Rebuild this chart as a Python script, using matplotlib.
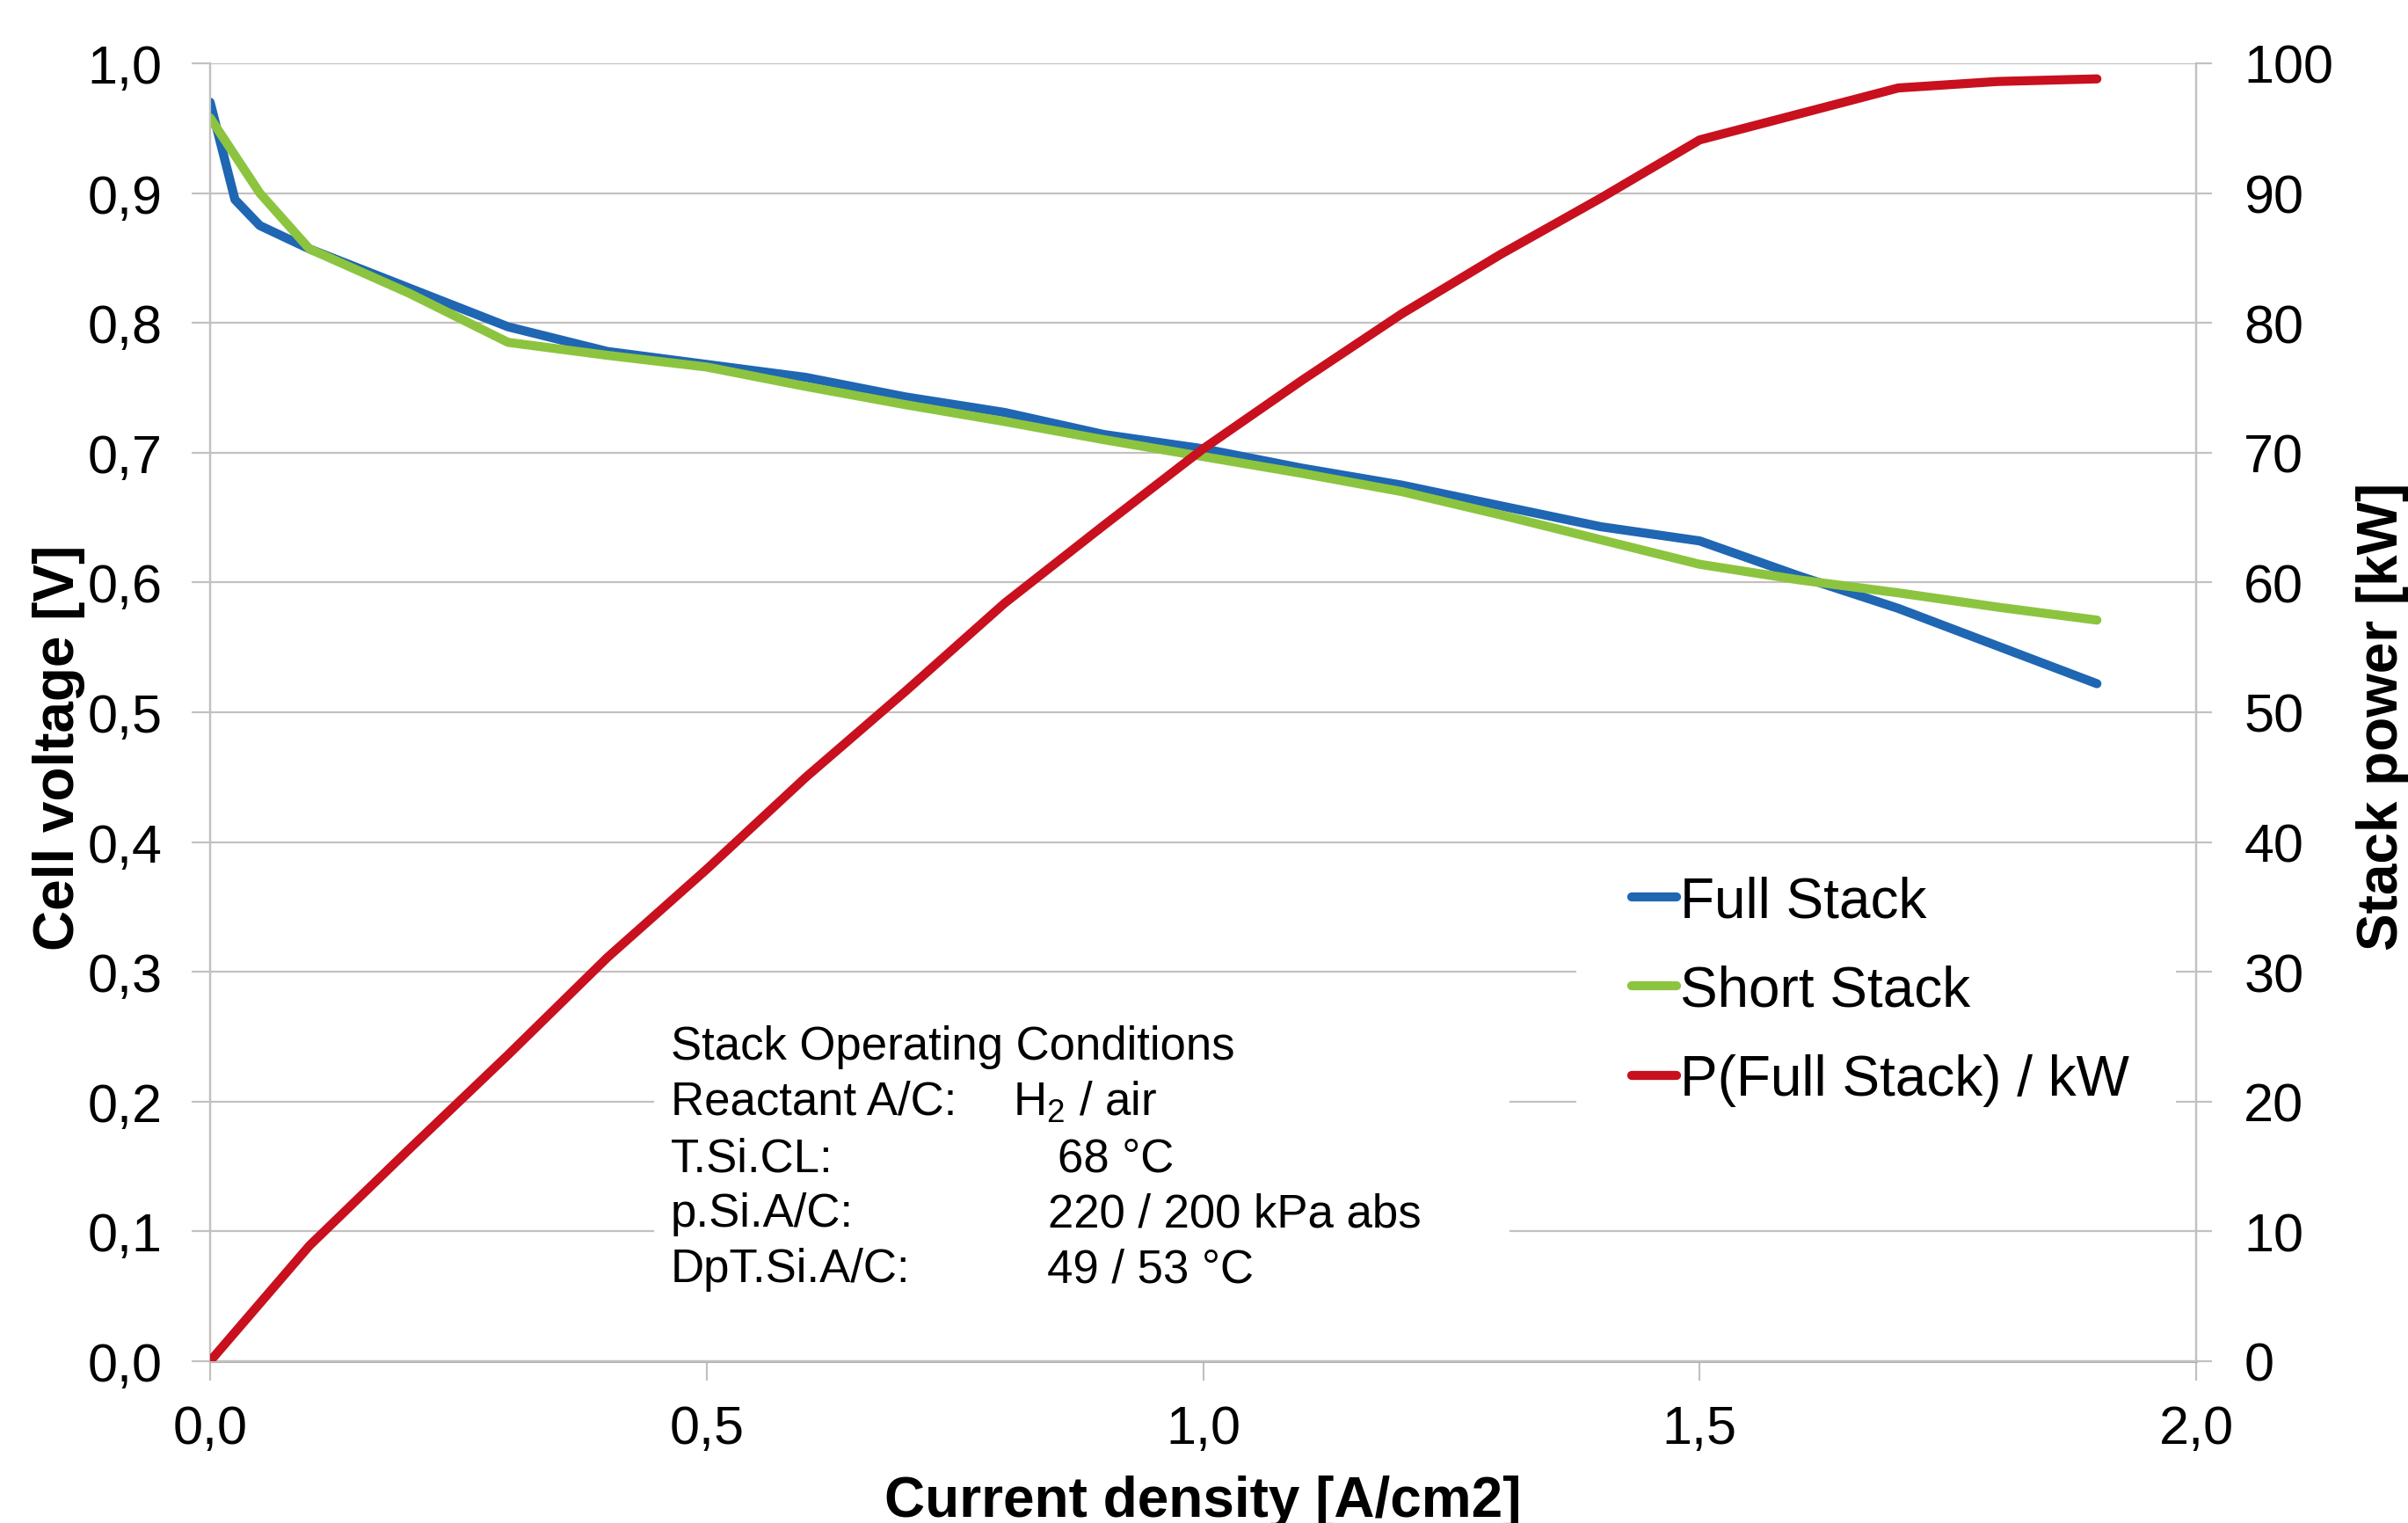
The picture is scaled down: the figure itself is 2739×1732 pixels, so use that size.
import matplotlib
matplotlib.use("Agg")
import matplotlib.pyplot as plt
import matplotlib.patches as patches

plt.rcParams['font.family'] = ['Liberation Sans', 'DejaVu Sans']
plt.rcParams['mathtext.fontset'] = 'custom'
plt.rcParams['mathtext.rm'] = 'Liberation Sans'

# data
current_density = [0.0, 0.025, 0.05, 0.1, 0.2, 0.3, 0.4, 0.5, 0.6, 0.7, 0.8, 0.9, 1.0,
                   1.1, 1.2, 1.3, 1.4, 1.5, 1.6, 1.7, 1.8, 1.9]
full_stack_v = [0.970, 0.895, 0.875, 0.857, 0.827, 0.797, 0.778, 0.768, 0.758, 0.743, 0.731,
                0.714, 0.703, 0.688, 0.675, 0.659, 0.643, 0.632, 0.605, 0.580, 0.551, 0.522]

short_density = [0.0, 0.05, 0.1, 0.2, 0.3, 0.4, 0.5, 0.6, 0.7, 0.8, 0.9, 1.0,
                 1.1, 1.2, 1.3, 1.4, 1.5, 1.6, 1.7, 1.8, 1.9]
short_stack_v = [0.958, 0.900, 0.857, 0.823, 0.785, 0.775, 0.766, 0.751, 0.737, 0.724, 0.710,
                 0.697, 0.684, 0.670, 0.652, 0.633, 0.614, 0.602, 0.592, 0.581, 0.571]

power_density = [0.0, 0.1, 0.2, 0.3, 0.4, 0.5, 0.6, 0.7, 0.8, 0.9, 1.0,
                 1.1, 1.2, 1.3, 1.4, 1.5, 1.6, 1.7, 1.8, 1.9]
full_stack_kw = [0.0, 8.9, 16.3, 23.6, 31.1, 37.9, 45.0, 51.6, 58.4, 64.4, 70.3,
                 75.6, 80.7, 85.3, 89.6, 94.1, 96.1, 98.1, 98.6, 98.8]

x_ticks = [0.0, 0.5, 1.0, 1.5, 2.0]
x_tick_labels = ['0,0', '0,5', '1,0', '1,5', '2,0']
v_ticks = [0.0, 0.1, 0.2, 0.3, 0.4, 0.5, 0.6, 0.7, 0.8, 0.9, 1.0]
v_tick_labels = ['0,0', '0,1', '0,2', '0,3', '0,4', '0,5', '0,6', '0,7', '0,8', '0,9', '1,0']
p_ticks = [0, 10, 20, 30, 40, 50, 60, 70, 80, 90, 100]

series_labels = ['Full Stack', 'Short Stack', 'P(Full Stack) / kW']

conditions = [
    ('Stack Operating Conditions', None),
    ('Reactant A/C:', r'H$_\mathrm{2}$ / air'),
    ('T.Si.CL:', '68 °C'),
    ('p.Si.A/C:', '220 / 200 kPa abs'),
    ('DpT.Si.A/C:', '49 / 53 °C'),
]

BLUE = '#1f66b3'
GREEN = '#8cc43f'
RED = '#c8101e'
GRID = '#c4c0c0'

fig = plt.figure(figsize=(27.39, 17.33), dpi=100)
ax1 = fig.add_axes([0.08726, 0.10618, 0.8248, 0.8517])
ax2 = ax1.twinx()

lw = 7.4
l1, = ax1.plot(current_density, full_stack_v, color=BLUE, lw=lw, zorder=3,
               solid_joinstyle='round', solid_capstyle='round')
l2, = ax1.plot(short_density, short_stack_v, color=GREEN, lw=lw, zorder=3,
               solid_joinstyle='round', solid_capstyle='round')
l3, = ax2.plot(power_density, full_stack_kw, color=RED, lw=lw, zorder=3,
               solid_joinstyle='round', solid_capstyle='round')

ax1.set_xlim(0, 2)
ax1.set_ylim(0, 1)
ax2.set_ylim(0, 100)

ax1.set_xticks(x_ticks)
ax1.set_xticklabels(x_tick_labels)
ax1.set_yticks(v_ticks)
ax1.set_yticklabels(v_tick_labels)
ax2.set_yticks(p_ticks)

ax1.yaxis.grid(True, color=GRID, lw=1.6, zorder=0)
ax1.set_axisbelow(True)

for ax in (ax1, ax2):
    for s in ax.spines.values():
        s.set_color(GRID)
        s.set_linewidth(1.6)
    ax.spines['top'].set_visible(False)
ax1.spines['bottom'].set_color('#b0acac')
ax1.spines['bottom'].set_linewidth(2.2)

ax1.tick_params(axis='y', direction='out', length=15, width=1.6, color=GRID,
                labelsize=44, pad=24)
ax1.tick_params(axis='x', direction='out', length=16, width=1.6, color=GRID,
                labelsize=44, pad=19)
ax2.tick_params(axis='y', direction='out', length=13, width=1.6, color=GRID,
                labelsize=44, pad=26)

ax1.set_xlabel('Current density [A/cm2]', fontsize=46, fontweight='bold')
ax1.xaxis.set_label_coords(0.5, -0.0872)
ax1.set_ylabel('Cell voltage [V]', fontsize=46, fontweight='bold')
ax1.yaxis.set_label_coords(-0.0629, 0.4736)
ax2.set_ylabel('Stack power [kW]', fontsize=46, fontweight='bold')
ax2.yaxis.set_label_coords(1.0806, 0.4973)

# white boxes behind legend and conditions text (they hide the gridlines)
ax1.add_patch(patches.Rectangle((0.6879, 0.16), 0.302, 0.225, transform=ax1.transAxes,
                                facecolor='white', edgecolor='none', zorder=2))
ax1.add_patch(patches.Rectangle((0.2235, 0.04), 0.4308, 0.25, transform=ax1.transAxes,
                                facecolor='white', edgecolor='none', zorder=2))

ax2.legend([l1, l2, l3], series_labels, loc='upper left', bbox_to_anchor=(0.7158, 0.3745),
           frameon=False, borderpad=0, borderaxespad=0, handlelength=0.8,
           handletextpad=0.06, labelspacing=0.65, fontsize=46)

row_y = [0.2331, 0.1904, 0.1470, 0.1043, 0.0616]
value_x = [None, 0.4042, 0.4267, 0.4219, 0.4214]
for (name, value), y, vx in zip(conditions, row_y, value_x):
    ax1.text(0.2320, y, name, transform=ax1.transAxes, fontsize=38, va='baseline', zorder=5)
    if value:
        ax1.text(vx, y, value, transform=ax1.transAxes, fontsize=38, va='baseline', zorder=5)

fig.savefig('out.png', dpi=100)
